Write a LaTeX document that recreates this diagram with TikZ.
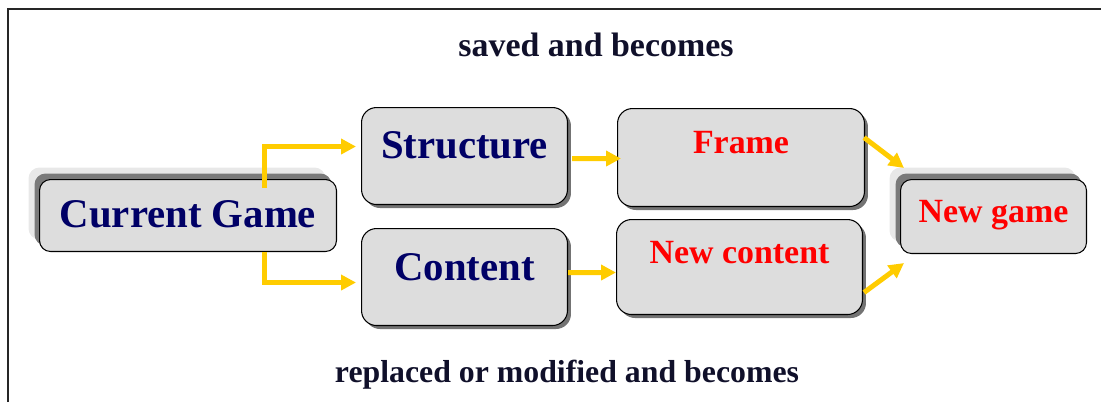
\documentclass[tikz,border=0pt]{standalone}
\usepackage{fontspec}
\setmainfont{Liberation Serif}
\usetikzlibrary{arrows.meta, calc, shadows}

\definecolor{gnavy}{HTML}{000066}
\definecolor{gred}{HTML}{FF0000}
\definecolor{ggold}{HTML}{FFCC00}
\definecolor{gink}{HTML}{10102A}
\definecolor{gbox}{HTML}{DDDDDD}

\tikzset{
  box/.style={
    draw=black, fill=gbox, line width=0.6pt, rounded corners=0.3cm,
    anchor=north west, inner sep=0pt, align=center
  },
  sunk/.style={drop shadow={shadow xshift=0.07cm, shadow yshift=-0.07cm,
    fill=black!55, opacity=1}},
  lifted/.style={rounded corners=0.22cm,
    drop shadow={shadow xshift=-0.22cm, shadow yshift=0.24cm, fill=black!9, opacity=1},
    drop shadow={shadow xshift=-0.1cm, shadow yshift=0.12cm, fill=black!52, opacity=1}
  },
  bigtxt/.style={font=\fontsize{23.2}{28}\selectfont\bfseries, text=gnavy},
  redtxt/.style={font=\fontsize{19.3}{23}\selectfont\bfseries, text=gred},
  caption/.style={anchor=base, text=gink, font=\bfseries},
  flow/.style={draw=ggold, line width=0.1cm,
    -{Triangle[length=0.3cm, width=0.3cm]}},
  outline/.style={draw=black!85, line width=1.1pt}
}

\begin{document}
\begin{tikzpicture}[x=0.02cm, y=-0.02cm]
  \useasboundingbox (0,0) rectangle (1101,402);
  \draw[outline] (8,402) |- (1101,9);

  % boxes
  \node[box, lifted, bigtxt, minimum width=5.94cm, text height=0.96cm, text depth=0.48cm]
    (cur) at (39,179) {Current Game};
  \node[box, sunk, bigtxt, minimum width=4.12cm, text height=1.02cm, text depth=0.92cm]
    (struct) at (361,107) {Structure};
  \node[box, sunk, bigtxt, minimum width=4.12cm, text height=1.04cm, text depth=0.90cm]
    (cont) at (361,228) {Content};
  \node[box, sunk, redtxt, minimum width=4.94cm, text height=0.90cm, text depth=1.06cm]
    (frame) at (617,108) {Frame};
  \node[box, sunk, redtxt, minimum width=4.92cm, text height=0.88cm, text depth=1.02cm]
    (newcont) at (616,219) {New content};
  \node[box, lifted, redtxt, minimum width=3.72cm, text height=0.86cm, text depth=0.62cm]
    (newgame) at (900,179) {New game};

  % captions
  \node[caption, font=\fontsize{19.3}{23}\selectfont\bfseries] (saved) at (596,57)
    {saved and becomes};
  \node[caption, font=\fontsize{18.1}{22}\selectfont\bfseries] (replaced) at (567,382)
    {replaced or modified and becomes};

  % arrows
  \draw[flow] ($(cur.north)+(76.5,9)$) |- ($(struct.west)+(-5,-9.5)$);
  \draw[flow] ($(cur.south)+(76.5,0)$) |- ($(cont.west)+(-5,5.5)$);
  \draw[flow] ($(struct.east)+(4,2.5)$) -- ($(frame.west)+(4,1)$);
  \draw[flow] ($(cont.east)+(0,-4.5)$) -- ($(newcont.west)+(0,5.5)$);
  \draw[flow] ($(frame.east)+(-1,-20)$) -- ($(newgame.north west)+(4,-11)$);
  \draw[flow] ($(newcont.east)+(1,25.5)$) -- ($(newgame.south west)+(4,9)$);
\end{tikzpicture}
\end{document}
